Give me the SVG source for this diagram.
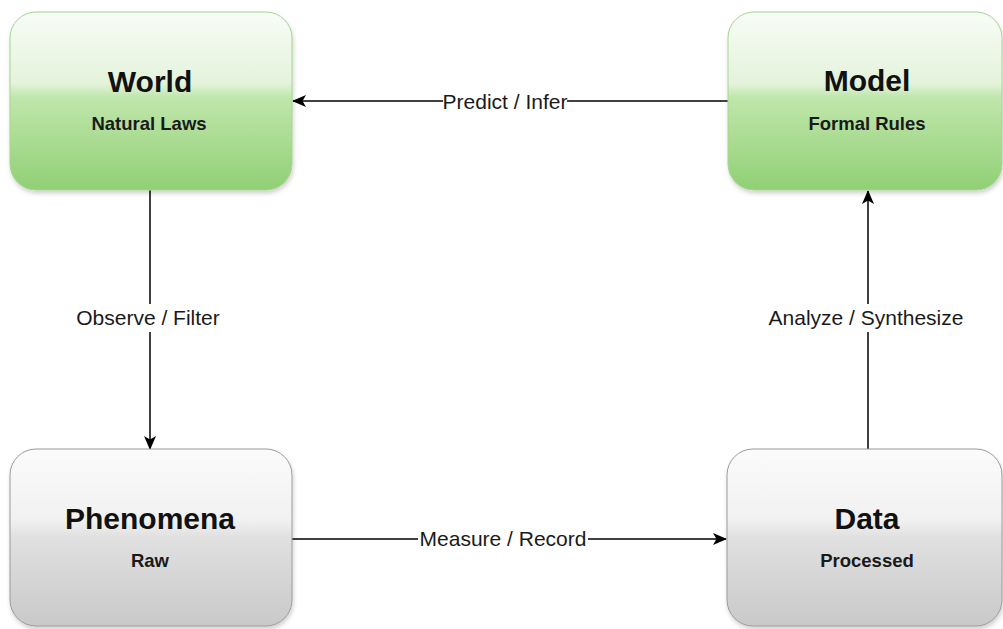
<svg xmlns="http://www.w3.org/2000/svg" width="1003" height="629" viewBox="0 0 1003 629">
  <defs>
    <linearGradient id="gGreen" x1="0" y1="0" x2="0" y2="1">
      <stop offset="0" stop-color="#f8fcf6"/>
      <stop offset="0.40" stop-color="#e4f3dc"/>
      <stop offset="0.48" stop-color="#c0e6ab"/>
      <stop offset="1" stop-color="#90d075"/>
    </linearGradient>
    <linearGradient id="gGray" x1="0" y1="0" x2="0" y2="1">
      <stop offset="0" stop-color="#fbfbfb"/>
      <stop offset="0.40" stop-color="#f1f1f1"/>
      <stop offset="0.50" stop-color="#e0e0e0"/>
      <stop offset="1" stop-color="#c9c9c9"/>
    </linearGradient>
    <filter id="shadow" x="-10%" y="-10%" width="120%" height="125%">
      <feDropShadow dx="1" dy="3" stdDeviation="2" flood-color="#000" flood-opacity="0.18"/>
    </filter>
    <marker id="arrow" viewBox="0 0 14 12" refX="13" refY="6" markerWidth="14" markerHeight="12" markerUnits="userSpaceOnUse" orient="auto">
      <path d="M0,0 L14,6 L0,12 L3.5,6 Z" fill="#000"/>
    </marker>
    <style>
      .green { fill: url(#gGreen); stroke: #a6d492; stroke-width: 1; filter: url(#shadow); }
      .gray { fill: url(#gGray); stroke: #9a9a9a; stroke-width: 1; filter: url(#shadow); }
      .title { font-family: "Liberation Sans", Arial, sans-serif; font-weight: bold; font-size: 30px; fill: #111; text-anchor: middle; }
      .sub { font-family: "Liberation Sans", Arial, sans-serif; font-weight: bold; font-size: 18.5px; fill: #1a1a1a; text-anchor: middle; }
      .edge { stroke: #000; stroke-width: 1.5; fill: none; }
      .lbl { font-family: "Liberation Sans", Arial, sans-serif; font-size: 21px; fill: #1a1a1a; text-anchor: middle; }
      .lblbg { fill: #fff; }
    </style>
  </defs>
  <rect width="1003" height="629" fill="#fff"/>

  <g id="connectors">
    <g id="edge-predict">
      <line class="edge" x1="728" y1="101" x2="293" y2="101" marker-end="url(#arrow)"/>
      <rect class="lblbg" x="443" y="88" width="124" height="26"/>
      <text class="lbl" x="505" y="109">Predict / Infer</text>
    </g>
    <g id="edge-observe">
      <line class="edge" x1="150" y1="190" x2="150" y2="449" marker-end="url(#arrow)"/>
      <rect class="lblbg" x="77" y="304" width="143" height="28"/>
      <text class="lbl" x="148" y="325">Observe / Filter</text>
    </g>
    <g id="edge-measure">
      <line class="edge" x1="292" y1="539" x2="726" y2="539" marker-end="url(#arrow)"/>
      <rect class="lblbg" x="418" y="526" width="170" height="26"/>
      <text class="lbl" x="503" y="546">Measure / Record</text>
    </g>
    <g id="edge-analyze">
      <line class="edge" x1="868" y1="449" x2="868" y2="191" marker-end="url(#arrow)"/>
      <rect class="lblbg" x="767" y="304" width="198" height="28"/>
      <text class="lbl" x="866" y="325">Analyze / Synthesize</text>
    </g>
  </g>

  <g id="node-world">
    <rect class="green" x="10" y="12" width="282" height="178" rx="26" ry="26"/>
    <text class="title" x="150" y="92">World</text>
    <text class="sub" x="149" y="130">Natural Laws</text>
  </g>
  <g id="node-model">
    <rect class="green" x="728" y="12" width="274" height="178" rx="26" ry="26"/>
    <text class="title" x="867" y="91">Model</text>
    <text class="sub" x="867" y="130">Formal Rules</text>
  </g>
  <g id="node-phenomena">
    <rect class="gray" x="10" y="449" width="282" height="177" rx="26" ry="26"/>
    <text class="title" x="150" y="529">Phenomena</text>
    <text class="sub" x="150" y="567">Raw</text>
  </g>
  <g id="node-data">
    <rect class="gray" x="727" y="449" width="275" height="177" rx="26" ry="26"/>
    <text class="title" x="867" y="529">Data</text>
    <text class="sub" x="867" y="567">Processed</text>
  </g>
</svg>
